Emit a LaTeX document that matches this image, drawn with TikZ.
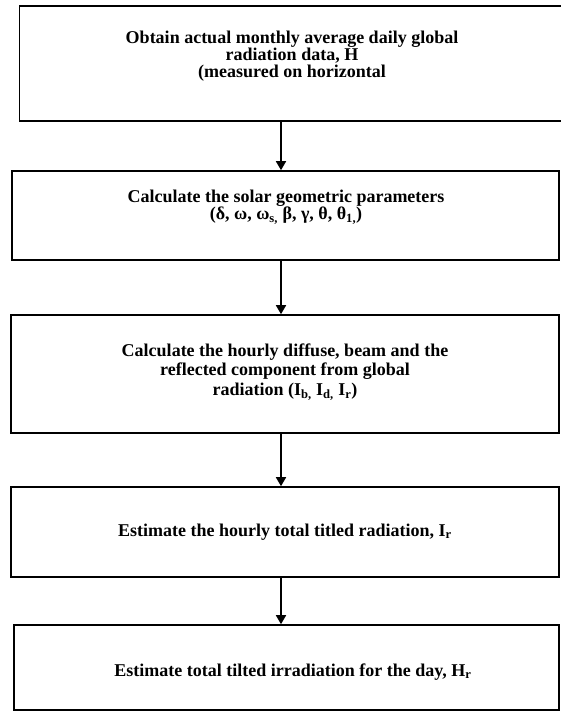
\documentclass[tikz,border=0pt]{standalone}
\usepackage{fontspec}
\setmainfont{Liberation Serif}
\usetikzlibrary{arrows.meta}

\begin{document}
\begin{tikzpicture}[x=1pt,y=-1pt,
    stepbox/.style={draw,line width=1.6pt,inner sep=0pt},
    steptext/.style={align=center,inner sep=0pt,
        font=\fontsize{18}{17}\selectfont\bfseries},
    flow/.style={line width=1.6pt,-{Triangle[width=10pt,length=9pt]}}]
     \useasboundingbox (0,0) rectangle (560,712);
     % boxes
     \node[stepbox,minimum width=545pt,minimum height=115pt] (b1) at (292,63.5) {};
     \node[stepbox,minimum width=547pt,minimum height=89pt] (b2) at (285.5,215.5) {};
     \node[stepbox,minimum width=548pt,minimum height=118pt] (b3) at (285,374) {};
     \node[stepbox,minimum width=548pt,minimum height=90pt] (b4) at (285,532) {};
     \node[stepbox,minimum width=545pt,minimum height=85pt] (b5) at (286.5,667.5) {};
     % texts
     \node[steptext] (t1) at (292,56)
        {Obtain actual monthly average daily global\\
         radiation data, H\\
         (measured on horizontal};
     \node[steptext] (t2) at (286,207)
        {Calculate the solar geometric parameters\\
         (δ, ω, ω\textsubscript{s,} β, γ, θ, θ\textsubscript{1,})};
     \node[steptext,font=\fontsize{18}{19.5}\selectfont\bfseries] (t3) at (285,372)
        {Calculate the hourly diffuse, beam and the\\
         reflected component from global\\
         radiation (I\textsubscript{b,} I\textsubscript{d,} I\textsubscript{r})};
     \node[steptext] (t4) at (285,532)
        {Estimate the hourly total titled radiation, I\textsubscript{r}};
     \node[steptext] (t5) at (293,672)
        {Estimate total tilted irradiation for the day, H\textsubscript{r}};
     % arrows
     \coordinate (ax) at (281,0);
     \draw[flow] (b1.south -| ax) -- (b2.north -| ax);
     \draw[flow] (b2.south -| ax) -- (b3.north -| ax);
     \draw[flow] (b3.south -| ax) -- (b4.north -| ax);
     \draw[flow] (b4.south -| ax) -- (b5.north -| ax);
\end{tikzpicture}
\end{document}
